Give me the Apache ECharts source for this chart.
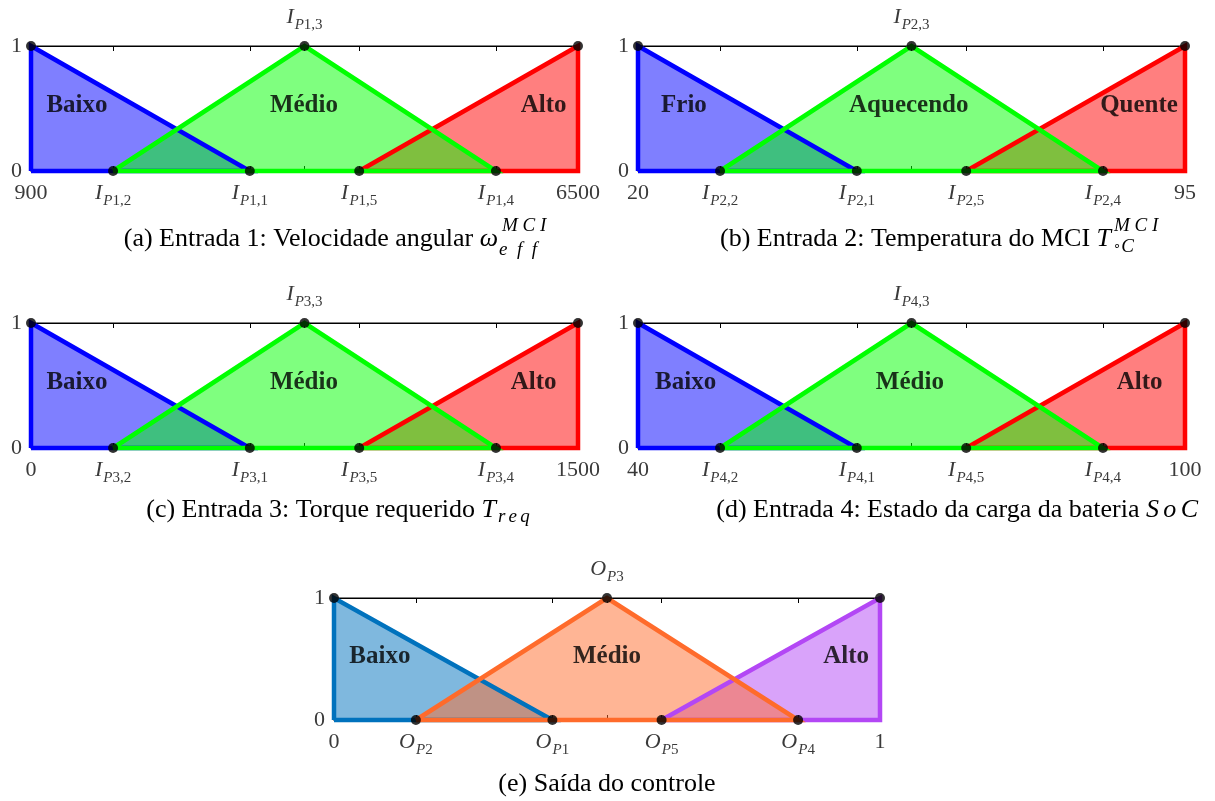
<!DOCTYPE html>
<html><head><meta charset="utf-8">
<script src="https://cdn.jsdelivr.net/npm/echarts@6/dist/echarts.min.js"></script>
<style>html,body{margin:0;padding:0;background:#fff}#c{width:1215px;height:801px}</style>
</head><body><div id="c"></div><script>
// ---- data ----
const breakpoints = [0, 0.15, 0.4, 0.5, 0.6, 0.85, 1];
const lowSet  = [[0, 0], [0, 1], [0.4, 0], [0, 0]];
const midSet  = [[0.15, 0], [0.5, 1], [0.85, 0], [0.15, 0]];
const highSet = [[0.6, 0], [1, 1], [1, 0], [0.6, 0]];
const markerPoints = [[0, 1], [0.15, 0], [0.4, 0], [0.5, 1], [0.6, 0], [0.85, 0], [1, 1]];
const rangeLow  = ['900', '20', '0', '40', '0'];
const rangeHigh = ['6500', '95', '1500', '100', '1'];
const symbolBase = ['I', 'I', 'I', 'I', 'O'];
const subscriptN = [
  ['1,2', '1,1', '1,3', '1,5', '1,4'],
  ['2,2', '2,1', '2,3', '2,5', '2,4'],
  ['3,2', '3,1', '3,3', '3,5', '3,4'],
  ['4,2', '4,1', '4,3', '4,5', '4,4'],
  ['2', '1', '3', '5', '4']
];
const setNames = [
  ['Baixo', 'Médio', 'Alto'],
  ['Frio', 'Aquecendo', 'Quente'],
  ['Baixo', 'Médio', 'Alto'],
  ['Baixo', 'Médio', 'Alto'],
  ['Baixo', 'Médio', 'Alto']
];
const setNameX = [
  [0.084, 0.499, 0.937],
  [0.084, 0.495, 0.916],
  [0.084, 0.499, 0.919],
  [0.087, 0.497, 0.917],
  [0.084, 0.500, 0.938]
];
const setNameY = 0.52;

// ---- styles / layout ----
const grids = [
  {left: 31, top: 46, width: 547, height: 125},
  {left: 638, top: 46, width: 547, height: 125},
  {left: 31, top: 323, width: 547, height: 125},
  {left: 638, top: 323, width: 547, height: 125},
  {left: 334, top: 598, width: 546, height: 122}
];
const palettes = [
  ['#0000ff', '#00ff00', '#ff0000'],
  ['#0000ff', '#00ff00', '#ff0000'],
  ['#0000ff', '#00ff00', '#ff0000'],
  ['#0000ff', '#00ff00', '#ff0000'],
  ['#0072BD', '#FF6B2B', '#B347F5']
];
const SERIF = '"Liberation Serif", "DejaVu Serif", serif';
const LBL = '#3a3a3a';
const rich = {
  num: {fontFamily: SERIF, fontSize: 22, color: LBL, verticalAlign: 'bottom'},
  sym: {fontFamily: SERIF, fontStyle: 'italic', fontSize: 22, color: LBL, verticalAlign: 'bottom', padding: [0, 1, 5, 0]},
  sp: {fontFamily: SERIF, fontStyle: 'italic', fontSize: 15, color: LBL, verticalAlign: 'bottom'},
  sn: {fontFamily: SERIF, fontSize: 15, color: LBL, verticalAlign: 'bottom'}
};
function idxOf(v) { return breakpoints.findIndex(b => Math.abs(b - v) < 1e-9); }
function tickLabel(p, v) {
  const i = idxOf(v);
  if (i === 0) return '{num|' + rangeLow[p] + '}';
  if (i === breakpoints.length - 1) return '{num|' + rangeHigh[p] + '}';
  return '{sym|' + symbolBase[p] + '}{sp|P}{sn|' + subscriptN[p][i - 1] + '}';
}
function rgba(hex, a) {
  const n = parseInt(hex.slice(1), 16);
  return 'rgba(' + (n >> 16) + ',' + ((n >> 8) & 255) + ',' + (n & 255) + ',' + a + ')';
}

const option = {grid: [], xAxis: [], yAxis: [], series: [], animation: false, backgroundColor: '#fff'};
grids.forEach((g, p) => {
  option.grid.push(Object.assign({show: true, borderColor: '#000', borderWidth: 1, backgroundColor: 'transparent'}, g));
  option.xAxis.push({
    type: 'value', gridIndex: p, min: 0, max: 1, position: 'bottom',
    axisLine: {show: true, lineStyle: {color: '#000', width: 1}},
    axisTick: {show: true, inside: true, length: 5, customValues: [0.15, 0.4, 0.5, 0.6, 0.85], lineStyle: {color: '#000'}},
    axisLabel: {show: true, customValues: [0, 0.15, 0.4, 0.6, 0.85, 1], margin: 11, formatter: v => tickLabel(p, v), rich: rich},
    splitLine: {show: false}
  });
  option.xAxis.push({
    type: 'value', gridIndex: p, min: 0, max: 1, position: 'top',
    axisLine: {show: true, lineStyle: {color: '#000', width: 1}},
    axisTick: {show: true, inside: true, length: 5, customValues: [0.15, 0.4, 0.5, 0.6, 0.85], lineStyle: {color: '#000'}},
    axisLabel: {show: true, customValues: [0.5], margin: 13, formatter: v => tickLabel(p, v), rich: rich},
    splitLine: {show: false}
  });
  option.yAxis.push({
    type: 'value', gridIndex: p, min: 0, max: 1,
    axisLine: {show: true, lineStyle: {color: '#000'}},
    axisTick: {show: false},
    axisLabel: {show: true, customValues: [0, 1], margin: 9, fontFamily: SERIF, fontSize: 22, color: LBL},
    splitLine: {show: false}
  });
  const pal = palettes[p];
  const sets = [[lowSet, pal[0]], [highSet, pal[2]], [midSet, pal[1]]];
  sets.forEach(([d, c]) => {
    option.series.push({
      type: 'line', xAxisIndex: p * 2, yAxisIndex: p, data: d, symbol: 'none', clip: false,
      lineStyle: {color: c, width: 4.5, join: 'miter'},
      areaStyle: {color: rgba(c, 0.5), opacity: 1, origin: 'start'},
      z: 2
    });
  });
  option.series.push({
    type: 'scatter', xAxisIndex: p * 2, yAxisIndex: p, data: markerPoints, symbolSize: 10,
    itemStyle: {color: '#000'}, clip: false, z: 5
  });
  option.series.push({
    type: 'scatter', xAxisIndex: p * 2, yAxisIndex: p, symbolSize: 1, itemStyle: {color: 'rgba(0,0,0,0)'},
    data: setNames[p].map((n, k) => ({value: [setNameX[p][k], setNameY], name: n})),
    label: {show: true, position: 'inside', formatter: o => o.name, fontFamily: SERIF, fontWeight: 'bold', fontSize: 25, color: '#000'},
    z: 6
  });
});

const CAP = '26px ' + SERIF;
const SMALL = 'italic 19px ' + SERIF;
function capText(x, y, text, align, richObj) {
  return {type: 'text', x: x, y: y, z: 10, style: {text: text, font: CAP, fill: '#000', align: align, verticalAlign: 'middle', rich: richObj || {}}};
}
function smallText(x, y, text, richObj) {
  return {type: 'text', x: x, y: y, z: 10, style: {text: text, font: SMALL, fill: '#000', align: 'left', verticalAlign: 'middle', rich: richObj || {}}};
}
const mathRich = {m: {fontFamily: SERIF, fontStyle: 'italic', fontSize: 26, color: '#000'}};
option.graphic = [
  capText(498, 239, '(a) Entrada 1: Velocidade angular {m|ω}', 'right', mathRich),
  smallText(502, 226, 'M C I'),
  smallText(499, 250, 'e\u2002f\u2002f'),
  capText(1111, 239, '(b) Entrada 2: Temperatura do MCI {m|T}', 'right', mathRich),
  smallText(1114, 226, 'M C I'),
  smallText(1113, 247, '{d|∘}{c|C}', {d: {fontFamily: '"DejaVu Sans"', fontSize: 13, color: '#000'}, c: {fontFamily: SERIF, fontStyle: 'italic', fontSize: 19, color: '#000'}}),
  capText(496, 510, '(c) Entrada 3: Torque requerido {m|T}', 'right', mathRich),
  smallText(498, 517, 'r\u2006e\u2006q'),
  capText(1198, 510, '(d) Entrada 4: Estado da carga da bateria {m|S\u2006o\u2006C}', 'right', mathRich),
  capText(607, 784, '(e) Saída do controle', 'center')
];

const chart = echarts.init(document.getElementById('c'), null, {renderer: 'canvas'});
chart.setOption(option);
</script></body></html>
